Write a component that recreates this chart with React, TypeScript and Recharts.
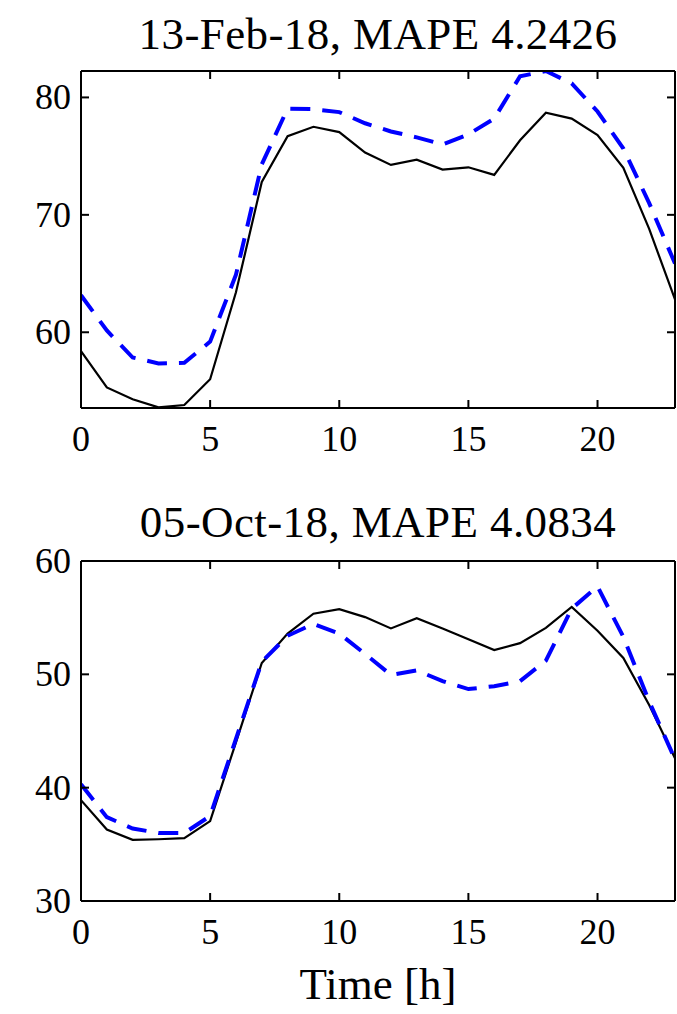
import React from "react";
import { LineChart, Line, XAxis, YAxis } from "recharts";

const hours = [0, 1, 2, 3, 4, 5, 6, 7, 8, 9, 10, 11, 12, 13, 14, 15, 16, 17, 18, 19, 20, 21, 22, 23];

const febTitle = "13-Feb-18, MAPE 4.2426";
const febActual = [58.4, 55.3, 54.3, 53.6, 53.8, 56.0, 63.4, 72.8, 76.7, 77.5, 77.05, 75.3, 74.25, 74.7, 73.85, 74.05, 73.4, 76.35, 78.7, 78.2, 76.8, 74.0, 68.8, 62.8];
const febForecast = [63.15, 60.15, 57.85, 57.35, 57.4, 59.2, 64.9, 74.3, 79.05, 79.0, 78.75, 77.8, 77.1, 76.6, 76.0, 76.85, 78.2, 81.8, 82.25, 81.2, 78.8, 75.65, 71.0, 65.85];
const febTicksY = [60, 70, 80];
const febDomainY = [53.55, 82.25];

const octTitle = "05-Oct-18, MAPE 4.0834";
const octActual = [38.9, 36.3, 35.4, 35.45, 35.55, 37.05, 44.0, 51.0, 53.6, 55.35, 55.75, 55.05, 54.05, 54.95, 54.05, 53.1, 52.15, 52.75, 54.1, 55.95, 53.85, 51.45, 47.3, 42.6];
const octForecast = [40.3, 37.4, 36.4, 36.0, 36.0, 37.5, 44.3, 51.1, 53.4, 54.45, 53.6, 51.8, 49.95, 50.35, 49.4, 48.7, 48.95, 49.4, 51.2, 55.8, 57.75, 53.3, 47.6, 42.5];
const octTicksY = [30, 40, 50, 60];
const octDomainY = [30, 60];

const xTicks = [0, 5, 10, 15, 20];
const xLabel = "Time [h]";

const FONT = "'Liberation Serif', 'DejaVu Serif', serif";
const TICK = 8;
const TC = "#000";
const TW = 2;

const BottomTick = (props: any) => {
  const { x, y, payload } = props;
  return (
    <g>
      <line x1={x} x2={x} y1={y} y2={y - TICK} stroke={TC} strokeWidth={TW} />
      <text x={x} y={y + 43} textAnchor="middle" fontFamily={FONT} fontSize={36} fill="#000">
        {payload.value}
      </text>
    </g>
  );
};
const TopTick = (props: any) => {
  const { x, y } = props;
  return <line x1={x} x2={x} y1={y} y2={y + TICK} stroke={TC} strokeWidth={TW} />;
};
const LeftTick = (props: any) => {
  const { x, y, payload } = props;
  return (
    <g>
      <line x1={x} x2={x + TICK} y1={y} y2={y} stroke={TC} strokeWidth={TW} />
      <text x={x - 10} y={y + 12} textAnchor="end" fontFamily={FONT} fontSize={36} fill="#000">
        {payload.value}
      </text>
    </g>
  );
};
const RightTick = (props: any) => {
  const { x, y } = props;
  return <line x1={x} x2={x - TICK} y1={y} y2={y} stroke={TC} strokeWidth={TW} />;
};

const axisLine = { stroke: "#000", strokeWidth: 2 };

function Panel(props: {
  actual: number[];
  forecast: number[];
  domainY: number[];
  ticksY: number[];
  height: number;
  marginTop: number;
  xAxisHeight: number;
}) {
  const data = hours.map((h, i) => ({ h, actual: props.actual[i], forecast: props.forecast[i] }));
  return (
    <LineChart
      width={677}
      height={props.height}
      data={data}
      margin={{ top: props.marginTop - 1, right: 1, left: 0, bottom: 0 }}
    >
      <XAxis
        xAxisId="bottom"
        orientation="bottom"
        dataKey="h"
        type="number"
        domain={[0, 23]}
        ticks={xTicks}
        allowDataOverflow
        height={props.xAxisHeight}
        tickSize={0}
        tickMargin={0}
        tickLine={false}
        axisLine={axisLine}
        tick={<BottomTick />}
        interval={0}
      />
      <XAxis
        xAxisId="top"
        orientation="top"
        dataKey="h"
        type="number"
        domain={[0, 23]}
        ticks={xTicks}
        allowDataOverflow
        height={1}
        tickSize={0}
        tickMargin={0}
        tickLine={false}
        axisLine={axisLine}
        tick={<TopTick />}
        interval={0}
      />
      <YAxis
        yAxisId="left"
        orientation="left"
        type="number"
        domain={props.domainY}
        ticks={props.ticksY}
        allowDataOverflow
        width={81}
        tickSize={0}
        tickMargin={0}
        tickLine={false}
        axisLine={axisLine}
        tick={<LeftTick />}
        interval={0}
      />
      <YAxis
        yAxisId="right"
        orientation="right"
        type="number"
        domain={props.domainY}
        ticks={props.ticksY}
        allowDataOverflow
        width={1}
        tickSize={0}
        tickMargin={0}
        tickLine={false}
        axisLine={axisLine}
        tick={<RightTick />}
        interval={0}
      />
      <Line
        xAxisId="bottom"
        yAxisId="left"
        dataKey="actual"
        type="linear"
        stroke="#000"
        strokeWidth={2.2}
        dot={false}
        isAnimationActive={false}
      />
      <Line
        xAxisId="top"
        yAxisId="right"
        dataKey="forecast"
        type="linear"
        stroke="#0000ff"
        strokeWidth={4}
        strokeDasharray="20 12"
        dot={false}
        isAnimationActive={false}
      />
    </LineChart>
  );
}

const titleStyle: React.CSSProperties = {
  position: "absolute",
  left: 81,
  width: 594,
  textAlign: "center",
  fontFamily: FONT,
  fontSize: 45,
  lineHeight: "45px",
  letterSpacing: "0.4px",
  color: "#000",
  whiteSpace: "nowrap",
};

export default function App() {
  return (
    <div style={{ position: "absolute", left: 0, top: 0, width: 677, height: 1014, background: "#fff", overflow: "hidden" }}>
      <div style={{ position: "absolute", left: 0, top: 0 }}>
        <Panel actual={febActual} forecast={febForecast} domainY={febDomainY} ticksY={febTicksY} height={460} marginTop={71} xAxisHeight={52} />
      </div>
      <div style={{ position: "absolute", left: 0, top: 480 }}>
        <Panel actual={octActual} forecast={octForecast} domainY={octDomainY} ticksY={octTicksY} height={534} marginTop={81} xAxisHeight={113} />
      </div>
      <div style={{ ...titleStyle, top: 12 }}>{febTitle}</div>
      <div style={{ ...titleStyle, top: 500 }}>{octTitle}</div>
      <div style={{ ...titleStyle, top: 962, letterSpacing: "0px" }}>{xLabel}</div>
    </div>
  );
}
